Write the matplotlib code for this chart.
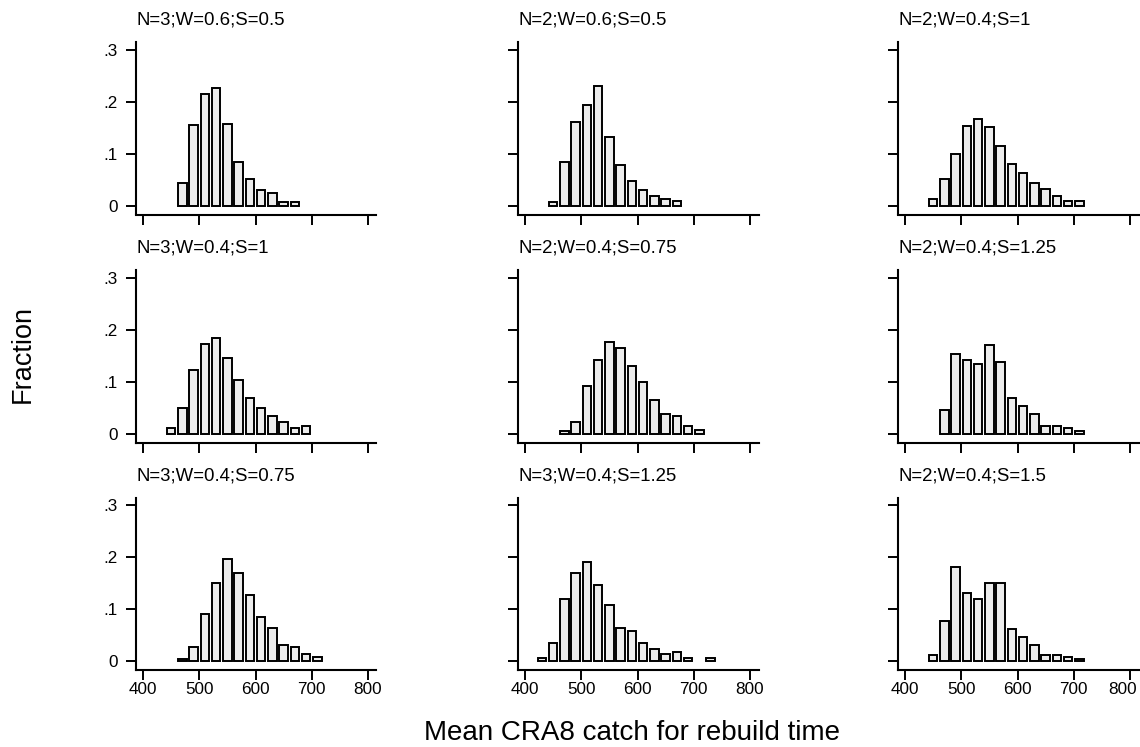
import matplotlib
matplotlib.use("Agg")
import matplotlib.pyplot as plt
from matplotlib.transforms import ScaledTranslation

plt.rcParams['font.family'] = ['Liberation Sans', 'DejaVu Sans']

# ---------------- data ----------------
titles = ["N=3;W=0.6;S=0.5", "N=2;W=0.6;S=0.5", "N=2;W=0.4;S=1",
          "N=3;W=0.4;S=1", "N=2;W=0.4;S=0.75", "N=2;W=0.4;S=1.25",
          "N=3;W=0.4;S=0.75", "N=3;W=0.4;S=1.25", "N=2;W=0.4;S=1.5"]

bin_width = 20
first_bin = [460, 440, 440, 440, 460, 460, 460, 420, 440]

frac_1 = [0.044, 0.155, 0.216, 0.227, 0.158, 0.085, 0.051, 0.031, 0.024, 0.007, 0.007]
frac_2 = [0.007, 0.085, 0.162, 0.193, 0.231, 0.132, 0.078, 0.047, 0.031, 0.020, 0.013, 0.009]
frac_3 = [0.013, 0.051, 0.100, 0.154, 0.167, 0.151, 0.116, 0.081, 0.063, 0.044, 0.032, 0.020, 0.009, 0.009]
frac_4 = [0.012, 0.050, 0.123, 0.173, 0.185, 0.146, 0.104, 0.069, 0.050, 0.035, 0.023, 0.012, 0.015]
frac_5 = [0.005, 0.023, 0.092, 0.142, 0.177, 0.165, 0.131, 0.100, 0.065, 0.038, 0.035, 0.015, 0.008]
frac_6 = [0.046, 0.154, 0.142, 0.135, 0.170, 0.138, 0.069, 0.054, 0.038, 0.015, 0.015, 0.012, 0.005]
frac_7 = [0.005, 0.027, 0.092, 0.150, 0.196, 0.169, 0.127, 0.085, 0.065, 0.031, 0.027, 0.015, 0.008]
frac_8 = [0.007, 0.035, 0.119, 0.169, 0.192, 0.146, 0.108, 0.065, 0.058, 0.035, 0.023, 0.015, 0.019, 0.007, 0.0, 0.007]
frac_9 = [0.012, 0.077, 0.181, 0.131, 0.119, 0.150, 0.150, 0.062, 0.046, 0.031, 0.012, 0.012, 0.008, 0.005]
fractions = [frac_1, frac_2, frac_3, frac_4, frac_5, frac_6, frac_7, frac_8, frac_9]

x_ticks = [400, 500, 600, 700, 800]
y_ticks = [0, 0.1, 0.2, 0.3]
y_tick_labels = ["0", ".1", ".2", ".3"]
x_label = "Mean CRA8 catch for rebuild time"
y_label = "Fraction"

# ---------------- layout ----------------
W, H = 1140, 747
fig = plt.figure(figsize=(W / 100, H / 100), dpi=100)
fig.patch.set_facecolor("white")

col_left = [136, 518, 898]
row_top = [42, 270, 497.5]
ax_w, ax_h = 240.5, 172.5

for i in range(9):
    r, c = divmod(i, 3)
    ax = fig.add_axes([col_left[c] / W, 1 - (row_top[r] + ax_h) / H, ax_w / W, ax_h / H])
    vals = fractions[i]
    lefts = [first_bin[i] + k * bin_width for k in range(len(vals))]
    centers = [l + bin_width / 2 for l, v in zip(lefts, vals) if v > 0]
    heights = [v for v in vals if v > 0]
    ax.bar(centers, heights, width=15.2, color="#ececec", edgecolor="black",
           linewidth=1.4, zorder=3)
    ax.set_xlim(387.5, 815)
    ax.set_ylim(-0.0165, 0.315)
    for s in ["top", "right"]:
        ax.spines[s].set_visible(False)
    for s in ["left", "bottom"]:
        ax.spines[s].set_linewidth(1.5)
    ax.set_xticks(x_ticks)
    ax.set_yticks(y_ticks)
    ax.tick_params(axis="both", direction="out", length=7, width=1.4, labelsize=12.3)
    ax.tick_params(axis="x", pad=2)
    ax.tick_params(axis="y", pad=6)
    if c == 0:
        ax.set_yticklabels(y_tick_labels)
    else:
        ax.set_yticklabels([])
    if r == 2:
        ax.set_xticklabels([str(t) for t in x_ticks])
        if c == 2:
            last = ax.get_xticklabels()[-1]
            last.set_transform(last.get_transform() + ScaledTranslation(-0.07, 0, fig.dpi_scale_trans))
    else:
        ax.set_xticklabels([])
    ax.text(0, 1 + 22 / ax_h, titles[i], transform=ax.transAxes,
            ha="left", va="center", fontsize=13.4)

fig.text(22.5 / W, 1 - 354 / H, y_label, rotation=90, ha="center", va="center", fontsize=19.5)
fig.text(632 / W, 1 - 733 / H, x_label, ha="center", va="center", fontsize=20)

fig.savefig("out.png", dpi=100, facecolor="white")
